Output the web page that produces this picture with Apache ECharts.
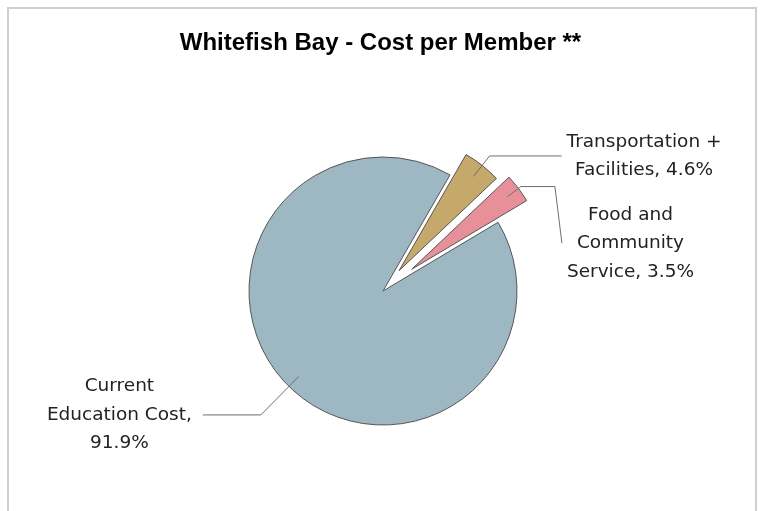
<!DOCTYPE html>
<html>
<head>
<meta charset="utf-8">
<script src="https://cdn.jsdelivr.net/npm/echarts@6/dist/echarts.min.js"></script>
<style>
  html, body { margin: 0; padding: 0; background: #ffffff; }
  #frame { position: absolute; left: 7px; top: 7px; width: 746px; height: 502px; border: 2px solid #cfcfcf; }
  #chart { position: absolute; left: 0; top: 0; width: 761px; height: 511px; }
</style>
</head>
<body>
<div id="frame"></div>
<div id="chart"></div>
<script>
// ---- data ----
const chartTitle = 'Whitefish Bay - Cost per Member **';
const categories = ['Transportation + Facilities', 'Food and Community Service', 'Current Education Cost'];
const percents = [4.6, 3.5, 91.9];
const labelText = ['Transportation +\nFacilities', 'Food and\nCommunity\nService', 'Current\nEducation Cost'];
const percentOnNewLine = [false, false, true];

// ---- style / layout ----
const colors = ['#c5a96a', '#e8909a', '#9db8c2'];
const CX = 383, CY = 291, R = 134, START = 60;
const explode = [26, 36, 0];
const lineLen = [12, 3, 40];
const lineLen2 = [72, 34, 58];
const labelDist = [5, 5, 11];
const INSET = 14, GAP = 16, JOG = 7;
const FONT = "'DejaVu Sans', Verdana, sans-serif";
const FSIZE = 18.5, LH = 28.5;
const TRANSPARENT = 'rgba(0,0,0,0)';

const total = percents.reduce((a, b) => a + b, 0);
function midAngle(i) {
  let before = 0;
  for (let j = 0; j < i; j++) before += percents[j];
  return (START - (before + percents[i] / 2) / total * 360) * Math.PI / 180;
}
function apex(i) {
  const a = midAngle(i);
  return [CX + explode[i] * Math.cos(a), CY - explode[i] * Math.sin(a)];
}
function labelString(i) {
  const pct = percents[i].toFixed(1) + '%';
  return labelText[i] + ',' + (percentOnNewLine[i] ? '\n' : ' ') + pct;
}

// deterministic label placement (labels pushed down when they would overlap)
function computeLabelGeometry() {
  const out = [];
  const placed = [];
  for (let i = 0; i < percents.length; i++) {
    const a = midAngle(i);
    const ux = Math.cos(a), uy = -Math.sin(a);
    const c = apex(i);
    const start = [c[0] + ux * (R - INSET), c[1] + uy * (R - INSET)];
    const bend = [c[0] + ux * (R + lineLen[i]), c[1] + uy * (R + lineLen[i])];
    const right = ux >= 0;
    const sgn = right ? 1 : -1;
    const end = [bend[0] + sgn * lineLen2[i], bend[1]];
    const h = labelString(i).split('\n').length * LH;
    let top = end[1] - h / 2;
    for (const q of placed) {
      if (q.right === right && top < q.bottom + GAP && top + h > q.top - GAP) top = q.bottom + GAP;
    }
    placed.push({ right: right, top: top, bottom: top + h });
    const shift = top - (end[1] - h / 2);
    let pts, lx, ly;
    if (Math.abs(shift) < 0.5) {
      pts = [start, bend, end];
      lx = end[0] + sgn * labelDist[i];
      ly = end[1];
    } else {
      const last = [end[0] + sgn * JOG, end[1] + shift];
      pts = [start, bend, end, last];
      lx = last[0] + sgn * labelDist[i];
      ly = last[1];
    }
    out.push({ pts: pts, x: lx, y: ly, align: right ? 'left' : 'right' });
  }
  return out;
}
const labelGeom = computeLabelGeometry();

function makeLayout(i) {
  return function () {
    const g = labelGeom[i];
    return {
      labelLinePoints: g.pts.map(p => p.slice()),
      x: g.x,
      y: g.y,
      align: g.align,
      verticalAlign: 'middle'
    };
  };
}

function labelFormatter(params) {
  return labelString(params.dataIndex).split('\n').map(s => '{c|' + s + '}').join('\n');
}

// sector series: draws slice i only (other slices transparent so angles stay shared)
function sectorSeries(i) {
  return {
    type: 'pie',
    center: apex(i),
    radius: R,
    startAngle: START,
    clockwise: true,
    silent: true,
    animation: false,
    z: i === 2 ? 1 : 2,
    label: { show: false },
    labelLine: { show: false },
    emphasis: { disabled: true },
    data: categories.map((name, j) => ({
      name: name,
      value: percents[j],
      itemStyle: j === i
        ? { color: colors[j], borderColor: '#555555', borderWidth: 1 }
        : { color: TRANSPARENT, borderColor: TRANSPARENT, borderWidth: 0 }
    }))
  };
}

// label series: transparent sectors on top, carrying the label and leader line of slice i
function labelSeries(i) {
  return {
    type: 'pie',
    center: apex(i),
    radius: R,
    startAngle: START,
    clockwise: true,
    avoidLabelOverlap: false,
    silent: true,
    animation: false,
    z: 5,
    emphasis: { disabled: true },
    data: categories.map((name, j) => ({
      name: name,
      value: percents[j],
      itemStyle: { color: TRANSPARENT, borderColor: TRANSPARENT, borderWidth: 0 },
      label: { show: j === i },
      labelLine: { show: j === i }
    })),
    label: {
      position: 'outside',
      alignTo: 'none',
      edgeDistance: 0,
      bleedMargin: 0,
      overflow: 'none',
      distanceToLabelLine: labelDist[i],
      formatter: labelFormatter,
      color: '#222222',
      fontFamily: FONT,
      fontSize: FSIZE,
      lineHeight: LH,
      rich: {
        c: { align: 'center', color: '#222222', fontFamily: FONT, fontSize: FSIZE, lineHeight: LH }
      }
    },
    labelLine: {
      show: true,
      length: lineLen[i],
      length2: lineLen2[i],
      smooth: false,
      lineStyle: { color: '#6e6e6e', width: 1 }
    },
    labelLayout: makeLayout(i)
  };
}

const chart = echarts.init(document.getElementById('chart'), null, { renderer: 'canvas' });
chart.setOption({
  backgroundColor: 'transparent',
  animation: false,
  title: {
    text: chartTitle,
    left: 'center',
    top: 31,
    padding: 0,
    textStyle: {
      fontFamily: "'Liberation Sans', Arial, sans-serif",
      fontWeight: 'bold',
      fontSize: 24,
      color: '#000000'
    }
  },
  series: categories.map((_, i) => sectorSeries(i)).concat(categories.map((_, i) => labelSeries(i)))
});
</script>
</body>
</html>
